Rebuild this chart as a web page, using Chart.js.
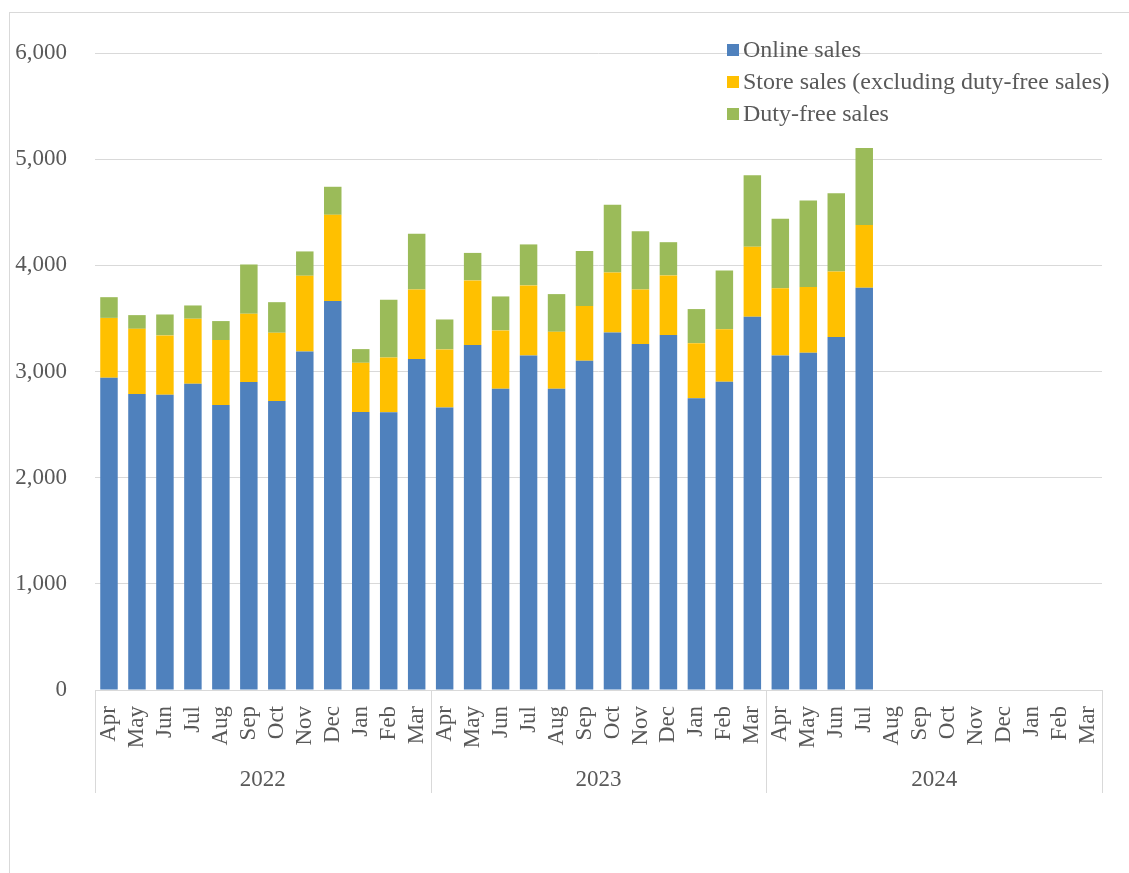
<!DOCTYPE html>
<html>
<head>
<meta charset="utf-8">
<script src="https://cdn.jsdelivr.net/npm/chart.js@4.4.1/dist/chart.umd.min.js"></script>
<style>
  body { margin: 0; background: #ffffff; }
  #wrap { position: relative; width: 1129px; height: 873px; overflow: hidden; }
  #frame { position: absolute; left: 9px; top: 12px; width: 1300px; height: 1000px;
           border-left: 1px solid #d9d9d9; border-top: 1px solid #d9d9d9; }
  #salesChart { position: absolute; left: 0; top: 0; }
</style>
</head>
<body>
<div id="wrap">
  <div id="frame"></div>
  <canvas id="salesChart" width="1129" height="873"></canvas>
</div>
<script>
const monthNames = ['Apr', 'May', 'Jun', 'Jul', 'Aug', 'Sep', 'Oct', 'Nov', 'Dec', 'Jan', 'Feb', 'Mar'];
const years = ['2022', '2023', '2024'];
const months = [].concat(monthNames, monthNames, monthNames);

const onlineSales = [
  2940, 2787, 2781, 2884, 2684, 2900, 2721, 3189, 3663, 2618, 2615, 3117,
  2662, 3249, 2837, 3151, 2837, 3101, 3368, 3258, 3343, 2747, 2903, 3515,
  3151, 3176, 3324, 3788, null, null, null, null, null, null, null, null
];
const storeSales = [
  565, 615, 559, 613, 612, 644, 644, 713, 813, 464, 517, 656,
  546, 609, 550, 660, 537, 515, 565, 515, 562, 520, 496, 659,
  634, 619, 618, 591, null, null, null, null, null, null, null, null
];
const dutyFreeSales = [
  195, 129, 197, 125, 179, 464, 288, 229, 264, 129, 544, 524,
  282, 259, 320, 386, 355, 518, 637, 549, 313, 321, 553, 675,
  653, 816, 738, 727, null, null, null, null, null, null, null, null
];

const textColor = '#595959';
const lineColor = '#d9d9d9';
const serif = '"Liberation Serif", "Times New Roman", serif';

// year labels, group separators and the legend
const extras = {
  id: 'extras',
  afterDraw(chart) {
    const ctx = chart.ctx;
    const area = chart.chartArea;
    const x = chart.scales.x;
    const per = monthNames.length;
    const step = (x.right - x.left) / months.length;

    ctx.save();
    ctx.strokeStyle = lineColor;
    ctx.lineWidth = 1;
    for (let g = 0; g <= years.length; g++) {
      const px = Math.round(x.left + g * per * step) + 0.5;
      ctx.beginPath();
      ctx.moveTo(px, area.bottom);
      ctx.lineTo(px, area.bottom + 103);
      ctx.stroke();
    }

    ctx.fillStyle = textColor;
    ctx.font = '23px ' + serif;
    ctx.textAlign = 'center';
    ctx.textBaseline = 'middle';
    years.forEach((y, g) => {
      const cx = (x.getPixelForValue(g * per) + x.getPixelForValue(g * per + per - 1)) / 2;
      ctx.fillText(y, cx, area.bottom + 90);
    });

    ctx.font = '24px ' + serif;
    ctx.textAlign = 'left';
    chart.data.datasets.forEach((ds, k) => {
      const cy = 50 + k * 32;
      ctx.fillStyle = ds.backgroundColor;
      ctx.fillRect(727, cy - 6, 12, 12);
      ctx.fillStyle = textColor;
      ctx.fillText(ds.label, 743, cy + 1);
    });
    ctx.restore();
  }
};

const ctx = document.getElementById('salesChart').getContext('2d');

const chart = new Chart(ctx, {
  type: 'bar',
  data: {
    labels: months,
    datasets: [
      {
        label: 'Online sales',
        data: onlineSales,
        backgroundColor: '#4f81bd',
      },
      {
        label: 'Store sales (excluding duty-free sales)',
        data: storeSales,
        backgroundColor: '#ffc000',
      },
      {
        label: 'Duty-free sales',
        data: dutyFreeSales,
        backgroundColor: '#9bbb59',
      },
    ]
  },
  options: {
    responsive: false,
    animation: false,
    layout: {
      padding: { top: 53, right: 27, left: 0, bottom: 0 }
    },
    datasets: {
      bar: {
        categoryPercentage: 1,
        barPercentage: 0.625,
        borderWidth: 0,
      }
    },
    plugins: {
      legend: { display: false },
      tooltip: { enabled: false },
    },
    scales: {
      x: {
        stacked: true,
        grid: { display: false },
        border: { display: true, color: lineColor, width: 1 },
        ticks: {
          color: textColor,
          font: { family: serif, size: 23 },
          minRotation: 90,
          maxRotation: 90,
          autoSkip: false,
          padding: 8,
        },
        afterFit: scale => { scale.height = 183; },
      },
      y: {
        stacked: true,
        min: 0,
        max: 6000,
        grid: { color: lineColor, lineWidth: 1, drawTicks: false },
        border: { display: false },
        ticks: {
          stepSize: 1000,
          color: textColor,
          font: { family: serif, size: 23 },
          padding: 28,
          callback: v => v.toLocaleString('en-US'),
        },
        afterFit: scale => { scale.width = 95; },
      },
    }
  },
  plugins: [extras]
});
</script>
</body>
</html>
